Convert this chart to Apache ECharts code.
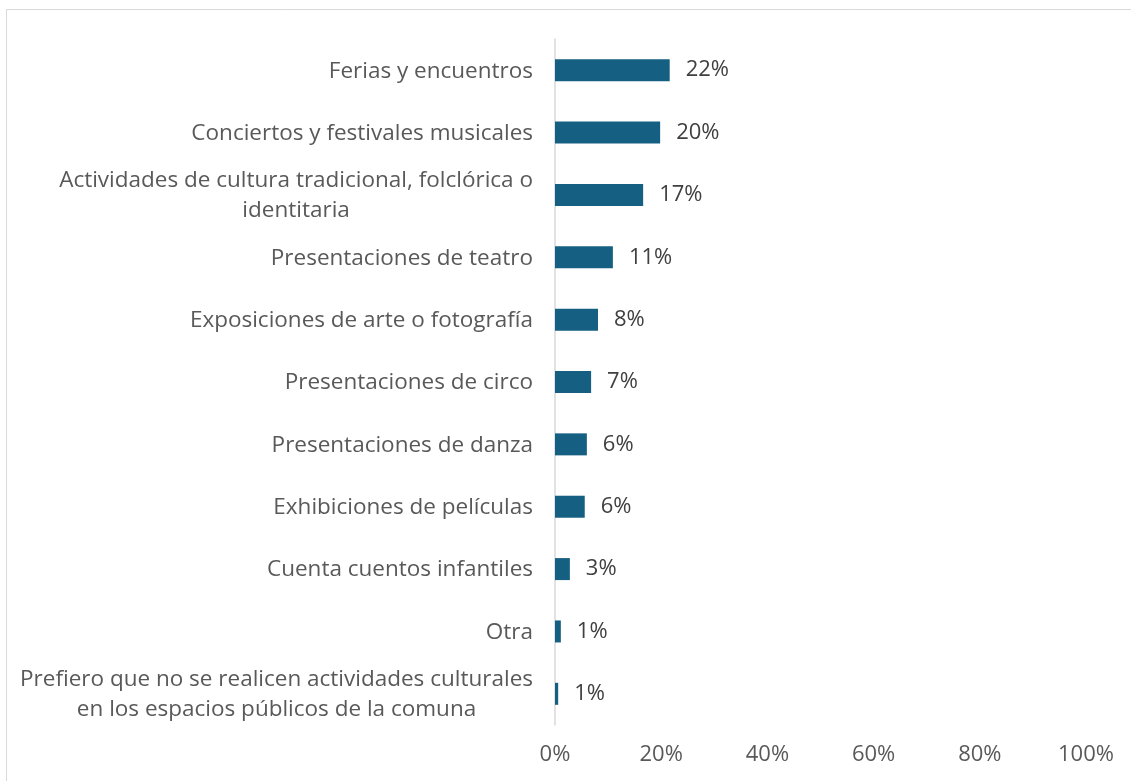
<!DOCTYPE html>
<html>
<head>
<meta charset="utf-8">
<script src="https://cdn.jsdelivr.net/npm/echarts@6/dist/echarts.min.js"></script>
<style>
  html, body { margin: 0; padding: 0; background: #fff; }
  #chart { width: 1131px; height: 781px; }
</style>
</head>
<body>
<div id="chart"></div>
<script>
    // categories from top to bottom
    var categories = [
        'Ferias y encuentros',
        'Conciertos y festivales musicales',
        'Actividades de cultura tradicional, folclórica o\nidentitaria',
        'Presentaciones de teatro',
        'Exposiciones de arte o fotografía',
        'Presentaciones de circo',
        'Presentaciones de danza',
        'Exhibiciones de películas',
        'Cuenta cuentos infantiles',
        'Otra',
        'Prefiero que no se realicen actividades culturales\nen los espacios públicos de la comuna'
    ];
    // share of answers, %
    var values = [21.6, 19.8, 16.6, 10.9, 8.1, 6.8, 6.0, 5.6, 2.8, 1.1, 0.6];
    var xTicks = [0, 20, 40, 60, 80, 100];

    var fontName = 'Open Sans';
    var myChart = echarts.init(document.getElementById('chart'));

    var option = {
        backgroundColor: '#ffffff',
        animation: false,
        graphic: [{
            type: 'rect',
            shape: { x: 6.5, y: 9.5, width: 1300, height: 1000 },
            style: { fill: 'none', stroke: '#d9d9d9', lineWidth: 1 },
            silent: true
        }],
        grid: {
            left: 555,
            right: 45,
            top: 39,
            bottom: 56
        },
        xAxis: {
            type: 'value',
            min: xTicks[0],
            max: xTicks[xTicks.length - 1],
            interval: 20,
            axisLine: { show: false },
            axisTick: { show: false },
            splitLine: { show: false },
            axisLabel: {
                margin: 19,
                color: '#595959',
                fontFamily: fontName,
                fontSize: 22,
                formatter: '{value}%'
            }
        },
        yAxis: {
            type: 'category',
            inverse: true,
            data: categories,
            axisLine: { show: true, lineStyle: { color: '#d9d9d9', width: 1.5 } },
            axisTick: { show: false },
            axisLabel: {
                margin: 22,
                color: '#595959',
                fontFamily: fontName,
                fontSize: 22.5,
                lineHeight: 30,
                formatter: function (v) {
                    return v.split('\n').map(function (s) {
                        return '{c|' + s + '}';
                    }).join('\n');
                },
                rich: {
                    c: {
                        align: 'center',
                        color: '#595959',
                        fontFamily: fontName,
                        fontSize: 22.5,
                        lineHeight: 30,
                        padding: [2, 0, 0, 0]
                    }
                }
            }
        },
        series: [{
            type: 'bar',
            data: values,
            barWidth: 22,
            itemStyle: {
                color: '#156082'
            },
            label: {
                show: true,
                position: 'right',
                distance: 16,
                color: '#404040',
                fontFamily: fontName,
                fontSize: 22,
                padding: [3, 0, 0, 0],
                formatter: function (p) {
                    return Math.round(p.value) + '%';
                }
            }
        }]
    };
    myChart.setOption(option);
</script>
</body>
</html>
